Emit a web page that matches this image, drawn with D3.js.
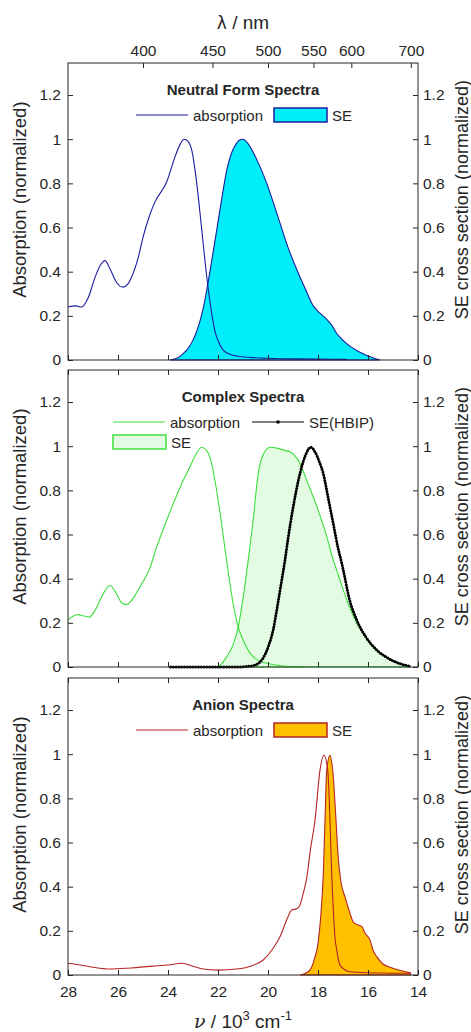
<!DOCTYPE html>
<html>
<head>
<meta charset="utf-8">
<script src="https://cdn.jsdelivr.net/npm/d3@7"></script>
<style>
  body { margin: 0; background: #fff; }
  svg text { font-family: "Liberation Sans", Arial, sans-serif; fill: #262626; }
</style>
</head>
<body>
<svg id="chart"></svg>
<script>
// spectra, [wavenumber (10^3 cm-1), normalized value]
var neutralAbs = [[28,0.24],[27.7,0.245],[27.45,0.24],[27.2,0.28],[26.9,0.38],[26.7,0.43],[26.52,0.45],[26.35,0.42],[26.05,0.35],[25.8,0.33],[25.6,0.345],[25.45,0.377],[25.2,0.46],[24.99,0.56],[24.75,0.65],[24.52,0.716],[24.05,0.807],[23.72,0.92],[23.5,0.98],[23.36,1.0],[23.2,0.99],[23.05,0.95],[22.85,0.8],[22.65,0.59],[22.45,0.377],[22.25,0.21],[22.12,0.13],[21.99,0.085],[21.79,0.045],[21.5,0.025],[21.25,0.018],[20.5,0.01],[20.05,0.008],[19,0.005],[18,0.004],[16.85,0.003]];
var neutralSE = [[23.92,0],[23.6,0.01],[23.39,0.03],[23.25,0.045],[23.0,0.09],[22.85,0.13],[22.6,0.23],[22.45,0.317],[22.25,0.45],[22.05,0.59],[21.85,0.73],[21.65,0.86],[21.45,0.94],[21.32,0.97],[21.15,0.995],[21.0,1.0],[20.8,0.98],[20.59,0.94],[20.3,0.87],[20.05,0.8],[19.75,0.7],[19.52,0.62],[19.2,0.51],[18.85,0.41],[18.5,0.32],[18.19,0.245],[17.9,0.21],[17.65,0.184],[17.45,0.158],[17.25,0.12],[17.05,0.095],[16.75,0.065],[16.45,0.043],[16.2,0.028],[15.99,0.018],[15.75,0.008],[15.52,0]];

var complexAbs = [[28,0.213],[27.8,0.23],[27.6,0.237],[27.4,0.232],[27.15,0.226],[26.9,0.26],[26.6,0.33],[26.32,0.369],[26.1,0.34],[25.85,0.29],[25.65,0.283],[25.4,0.31],[25.12,0.364],[24.99,0.388],[24.75,0.44],[24.45,0.545],[24.1,0.65],[23.79,0.74],[23.45,0.83],[23.12,0.907],[22.9,0.96],[22.65,0.995],[22.45,0.98],[22.25,0.92],[22.1,0.83],[21.92,0.7],[21.75,0.56],[21.59,0.43],[21.4,0.29],[21.19,0.18],[20.95,0.11],[20.72,0.063],[20.4,0.03],[20.05,0.017],[19.5,0.006],[19,0.002],[18.5,0]];
var complexSE = [[22.05,0],[21.85,0.015],[21.65,0.047],[21.4,0.1],[21.19,0.183],[21.0,0.31],[20.79,0.485],[20.6,0.66],[20.39,0.877],[20.2,0.96],[19.92,0.995],[19.6,0.99],[19.3,0.98],[19.12,0.975],[18.95,0.96],[18.79,0.937],[18.5,0.86],[18.19,0.77],[17.9,0.68],[17.65,0.59],[17.39,0.485],[17.2,0.42],[16.99,0.35],[16.7,0.26],[16.45,0.198],[16.05,0.13],[15.65,0.077],[15.2,0.04],[14.72,0.017],[14.3,0.003]];
var hbipSE = [[23.9,0],[22,0],[21.2,0],[20.85,0.002],[20.6,0.006],[20.45,0.012],[20.2,0.04],[19.99,0.092],[19.79,0.17],[19.65,0.258],[19.5,0.36],[19.32,0.485],[19.2,0.58],[19.0,0.72],[18.72,0.877],[18.5,0.96],[18.29,0.995],[18.1,0.97],[17.95,0.93],[17.79,0.877],[17.6,0.77],[17.39,0.65],[17.2,0.54],[17.05,0.47],[16.99,0.44],[16.75,0.31],[16.45,0.213],[16.05,0.13],[15.65,0.077],[15.2,0.04],[14.72,0.015],[14.3,0.003]];

var anionAbs = [[28,0.053],[27.5,0.045],[27,0.035],[26.32,0.027],[25.5,0.032],[24.6,0.04],[24,0.045],[23.45,0.053],[23.0,0.04],[22.6,0.027],[22,0.022],[21.25,0.027],[20.7,0.04],[20.19,0.068],[19.8,0.12],[19.52,0.173],[19.25,0.25],[19.05,0.294],[18.85,0.3],[18.75,0.31],[18.59,0.37],[18.45,0.44],[18.3,0.57],[18.12,0.7],[17.92,0.928],[17.76,0.995],[17.61,0.928],[17.52,0.7],[17.45,0.45],[17.39,0.3],[17.32,0.17],[17.25,0.113],[17.12,0.045],[16.72,0.015],[16,0.01],[15,0.008],[14.3,0.008]];
var anionSE = [[18.72,0],[18.5,0.008],[18.32,0.023],[18.15,0.07],[17.99,0.15],[17.85,0.33],[17.79,0.45],[17.72,0.7],[17.65,0.928],[17.52,0.995],[17.45,0.96],[17.39,0.9],[17.29,0.72],[17.19,0.53],[17.08,0.42],[16.92,0.354],[16.72,0.28],[16.59,0.24],[16.39,0.226],[16.25,0.22],[16.12,0.19],[15.92,0.158],[15.79,0.11],[15.65,0.083],[15.4,0.05],[15.12,0.035],[14.7,0.02],[14.3,0.01]];

var nuTicks = [28, 26, 24, 22, 20, 18, 16, 14];
var nmTicks = [400, 450, 500, 550, 600, 700];
var yTicks = [0, 0.2, 0.4, 0.6, 0.8, 1, 1.2];

var W = 471, H = 1032;
var left = 68, right = 418;
var panelTops = [63, 370, 678], panelH = 297;

var svg = d3.select("#chart").attr("width", W).attr("height", H);

var x = d3.scaleLinear().domain([28, 14]).range([left, right]);

var axisColor = "#262626";

function drawPanel(i, cfg) {
    var top = panelTops[i], bottom = top + panelH;
    var y = d3.scaleLinear().domain([0, 1.345]).range([bottom, top]);
    var g = svg.append("g");

    var line = d3.line().x(function(d) { return x(d[0]); }).y(function(d) { return y(d[1]); }).curve(d3.curveMonotoneX);
    var area = d3.area().x(function(d) { return x(d[0]); }).y0(y(0)).y1(function(d) { return y(d[1]); }).curve(d3.curveMonotoneX);

    // SE fill
    g.append("path").datum(cfg.se).attr("d", area)
        .attr("fill", cfg.fill).attr("stroke", cfg.seStroke).attr("stroke-width", cfg.seWidth);

    // absorption line
    g.append("path").datum(cfg.abs).attr("d", line)
        .attr("fill", "none").attr("stroke", cfg.absColor).attr("stroke-width", 1.1);

    if (cfg.hbip) {
        g.append("path").datum(cfg.hbip).attr("d", line)
            .attr("fill", "none").attr("stroke", "#000").attr("stroke-width", 1.3);
        g.append("path").datum(cfg.hbip).attr("d", line)
            .attr("fill", "none").attr("stroke", "#000").attr("stroke-width", 3)
            .attr("stroke-linecap", "round").attr("stroke-dasharray", "0 2.8");
    }

    // frame
    g.append("rect").attr("x", left).attr("y", top).attr("width", right - left).attr("height", panelH)
        .attr("fill", "none").attr("stroke", axisColor).attr("stroke-width", 1);

    // y axes (ticks inward)
    var yl = g.append("g").attr("transform", "translate(" + left + ",0)")
        .call(d3.axisLeft(y).tickValues(yTicks).tickFormat(d3.format("~g")).tickSizeInner(-5).tickSizeOuter(0).tickPadding(7));
    var yr = g.append("g").attr("transform", "translate(" + right + ",0)")
        .call(d3.axisRight(y).tickValues(yTicks).tickFormat(d3.format("~g")).tickSizeInner(-5).tickSizeOuter(0).tickPadding(5));

    // bottom ticks
    var xb = g.append("g").attr("transform", "translate(0," + bottom + ")")
        .call(d3.axisBottom(x).tickValues(nuTicks).tickSizeInner(-5).tickSizeOuter(0).tickPadding(11)
            .tickFormat(cfg.xLabels ? d3.format("d") : ""));

    // top ticks
    var xt;
    if (cfg.nmTop) {
        xt = g.append("g").attr("transform", "translate(0," + top + ")")
            .call(d3.axisTop(x).tickValues(nmTicks.map(function(n) { return 1e4 / n; }))
                .tickFormat(function(v) { return Math.round(1e4 / v); })
                .tickSizeInner(-5).tickSizeOuter(0).tickPadding(7));
    } else {
        xt = g.append("g").attr("transform", "translate(0," + top + ")")
            .call(d3.axisTop(x).tickValues(nuTicks).tickFormat("").tickSizeInner(-5).tickSizeOuter(0));
    }

    [yl, yr, xb, xt].forEach(function(a) {
        a.select(".domain").remove();
        a.selectAll("line").attr("stroke", axisColor);
        a.selectAll("text").attr("fill", axisColor).style("font-size", "15.5px")
            .style("font-family", "'Liberation Sans', Arial, sans-serif");
    });

    // axis titles
    var cy = top + panelH * 0.46;
    g.append("text").attr("transform", "translate(26," + cy + ") rotate(-90)")
        .attr("text-anchor", "middle").style("font-size", "18.5px").text("Absorption (normalized)");
    g.append("text").attr("transform", "translate(468," + cy + ") rotate(-90)")
        .attr("text-anchor", "middle").style("font-size", "18px").text("SE cross section (normalized)");

    // panel title
    var mid = (left + right) / 2;
    g.append("text").attr("x", mid).attr("y", top + 32).attr("text-anchor", "middle")
        .style("font-size", "15px").style("font-weight", "bold").text(cfg.title);

    // legend
    var ly = top + 52;
    var lg = g.append("g");
    lg.append("line").attr("x1", cfg.legX).attr("x2", cfg.legX + 52).attr("y1", ly).attr("y2", ly)
        .attr("stroke", cfg.absColor).attr("stroke-width", 1.1);
    lg.append("text").attr("x", cfg.legX + 57).attr("y", ly + 5.5).style("font-size", "15px").text("absorption");

    var px = cfg.patchX, py = cfg.patchY;
    lg.append("rect").attr("x", px).attr("y", top + py - 7).attr("width", 53).attr("height", 14)
        .attr("fill", cfg.fill).attr("stroke", cfg.seStroke).attr("stroke-width", cfg.seWidth + 0.4);
    lg.append("text").attr("x", px + 58).attr("y", top + py + 5.5).style("font-size", "15px").text("SE");

    if (cfg.hbip) {
        var hx = 252;
        lg.append("line").attr("x1", hx).attr("x2", hx + 52).attr("y1", ly).attr("y2", ly)
            .attr("stroke", "#000").attr("stroke-width", 1.2);
        lg.append("circle").attr("cx", hx + 26).attr("cy", ly).attr("r", 1.8).attr("fill", "#000");
        lg.append("text").attr("x", hx + 57).attr("y", ly + 5.5).style("font-size", "15px").text("SE(HBIP)");
    }
}

drawPanel(0, {title: "Neutral Form Spectra", abs: neutralAbs, se: neutralSE,
    absColor: "#1c1ca0", fill: "#00eefa", seStroke: "#1c1ca0", seWidth: 1.1,
    legX: 136, patchX: 274, patchY: 52, nmTop: true, xLabels: false});
drawPanel(1, {title: "Complex Spectra", abs: complexAbs, se: complexSE, hbip: hbipSE,
    absColor: "#3ddf3d", fill: "#e2fbe2", seStroke: "#3ddf3d", seWidth: 1.1,
    legX: 113, patchX: 113, patchY: 72, nmTop: false, xLabels: false});
drawPanel(2, {title: "Anion Spectra", abs: anionAbs, se: anionSE,
    absColor: "#b52424", fill: "#ffc000", seStroke: "#b52424", seWidth: 1.1,
    legX: 136, patchX: 274, patchY: 52, nmTop: false, xLabels: true});

// wavelength title on top
svg.append("text").attr("x", (left + right) / 2).attr("y", 29).attr("text-anchor", "middle")
    .style("font-size", "19px").html("<tspan font-family='DejaVu Sans' font-size='17px'>λ</tspan> / nm");

// wavenumber title at bottom
var xl = svg.append("text").attr("x", (left + right) / 2).attr("y", 1028).attr("text-anchor", "middle")
    .style("font-size", "19px");
xl.append("tspan").style("font-style", "italic").style("font-family", "'DejaVu Serif', serif").text("ν");
xl.append("tspan").text(" / 10");
xl.append("tspan").attr("dy", -8).style("font-size", "13px").text("3");
xl.append("tspan").attr("dy", 8).text(" cm");
xl.append("tspan").attr("dy", -8).style("font-size", "13px").text("-1");
</script>
</body>
</html>
